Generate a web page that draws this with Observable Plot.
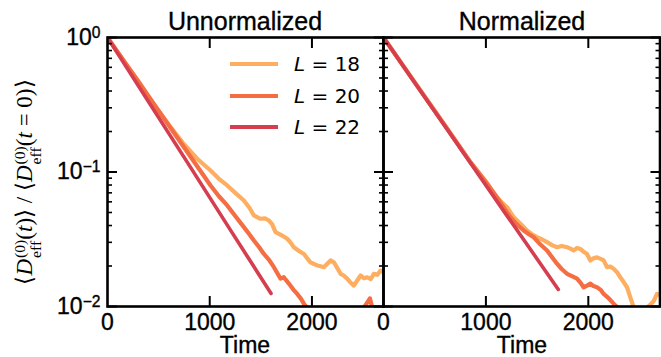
<!DOCTYPE html>
<html><head><meta charset="utf-8">
<script src="https://cdn.jsdelivr.net/npm/d3@7"></script>
<script src="https://cdn.jsdelivr.net/npm/@observablehq/plot@0.6"></script>
<style>
body{margin:0;background:#fff;}
#wrap{position:relative;width:661px;height:357px;overflow:hidden;font-family:"Liberation Sans",Arial,sans-serif;color:#000;}
.abs{position:absolute;}
.title{font-size:25px;line-height:24px;transform:translateX(-50%);white-space:nowrap;-webkit-text-stroke:0.35px #000;}
.xlab{font-size:23px;line-height:18px;transform:translateX(-50%);white-space:nowrap;-webkit-text-stroke:0.35px #000;}
.legline{height:4px;width:48px;}
.legtxt{font-family:"DejaVu Sans",sans-serif;font-size:20px;line-height:20px;white-space:nowrap;}
#ylab{font-family:"Liberation Serif","DejaVu Serif",serif;font-size:23px;line-height:22px;white-space:nowrap;transform:translate(-50%,-50%) rotate(-90deg);}
#ylab i{font-style:italic;}
.br{font-family:"DejaVu Sans","Liberation Serif",serif;font-weight:200;}
.ss{display:inline-flex;flex-direction:column;vertical-align:0.42em;font-size:0.68em;line-height:1.0;margin-left:1px;}
.ss span{font-style:normal;}
svg text{stroke:#000;stroke-width:0.35px;}
</style></head><body><div id="wrap"></div>
<script>
// ---- data ----
const seriesNames = ["18", "20", "22"];
const colors = ["#fdae61", "#f46d43", "#d53e4f"];
const panelTitles = ["Unnormalized", "Normalized"];
const xLabel = "Time";
const xTicks = [0, 1000, 2000];
const xInnerTicks = [1000, 2000];
const yMajor = [1, 0.1, 0.01];
const yExp = ["0", "\u22121", "\u22122"];
const yMinor = [0.02,0.03,0.04,0.05,0.06,0.07,0.08,0.09,0.2,0.3,0.4,0.5,0.6,0.7,0.8,0.9];

// Unnormalized
const u18T = [0,150,300,450,600,750,880,1008,1090,1171,1250,1334,1390,1432,1497,1540,1579,1610,1644,1700,1758,1790,1823,1870,1921,1950,1986,2020,2052,2085,2117,2150,2182,2215,2250,2280,2310,2345,2380,2410,2443,2476,2510,2541,2575,2606,2640,2671,2700];
const u18V = [1,0.68,0.475,0.32,0.225,0.16,0.125,0.1026,0.089,0.0794,0.070,0.0614,0.054,0.0475,0.0449,0.0452,0.0436,0.041,0.0357,0.034,0.0319,0.030,0.0276,0.026,0.0246,0.023,0.0213,0.0207,0.0202,0.0199,0.0196,0.0208,0.0220,0.0213,0.0192,0.0175,0.0170,0.0161,0.0150,0.0143,0.0156,0.0170,0.0162,0.0165,0.0160,0.0175,0.0172,0.0185,0.0180];
const u20T = [0,250,500,750,1008,1090,1171,1250,1334,1380,1432,1480,1530,1580,1628,1693,1725,1774,1820,1856,1890,1921,1960,2000,2100,2200,2300,2400,2450,2510,2545,2567,2590,2630];
const u20V = [1,0.535,0.285,0.152,0.0794,0.066,0.0564,0.047,0.0389,0.035,0.0310,0.0278,0.0246,0.0222,0.0196,0.0161,0.0165,0.0148,0.0133,0.0124,0.0115,0.0105,0.0096,0.0092,0.0085,0.0082,0.0080,0.0086,0.0092,0.0099,0.0108,0.0115,0.0098,0.0088];
const u22T = [0,400,800,1200,1600];
const u22V = [1,0.334,0.112,0.0373,0.0125];

// Normalized
const n18T = [0,300,600,850,1011,1060,1109,1160,1207,1240,1272,1340,1402,1450,1499,1550,1597,1650,1694,1740,1792,1830,1857,1890,1922,1955,1987,2020,2050,2085,2120,2150,2182,2215,2247,2280,2312,2345,2378,2410,2442,2480,2520,2540,2580,2610,2640,2670,2700];
const n18V = [1,0.47,0.222,0.118,0.083,0.073,0.065,0.059,0.0547,0.050,0.0461,0.041,0.0367,0.0345,0.0327,0.0315,0.0301,0.0285,0.0276,0.0282,0.0276,0.0268,0.0261,0.0272,0.0268,0.0255,0.0246,0.0220,0.0228,0.0232,0.0226,0.0220,0.0196,0.0198,0.0191,0.0180,0.0165,0.0152,0.0139,0.0117,0.0099,0.0088,0.0085,0.0090,0.0099,0.0104,0.0110,0.0124,0.0122];
const n20T = [0,300,600,850,1011,1100,1170,1239,1300,1369,1420,1467,1530,1597,1650,1694,1740,1792,1840,1890,1925,1954,1990,2020,2050,2085,2120,2150,2200,2247,2300,2350];
const n20V = [1,0.47,0.222,0.118,0.0817,0.066,0.055,0.0461,0.041,0.0367,0.0345,0.0327,0.029,0.0261,0.023,0.0208,0.019,0.0175,0.0168,0.0161,0.0150,0.0139,0.0143,0.0148,0.0142,0.0139,0.0133,0.0124,0.0115,0.0105,0.0096,0.0092];
const n22T = [0,400,800,1200,1707];
const n22V = [1,0.363,0.132,0.048,0.0134];

const panels = [
  [[u18T,u18V],[u20T,u20V],[u22T,u22V]],
  [[n18T,n18V],[n20T,n20V],[n22T,n22V]]
];

const wrap = document.getElementById("wrap");

function makePanel(series, {width, marginLeft, marginRight, labels}) {
  const marks = [];
  series.forEach(([T, V], i) => {
    const data = T.map((t, j) => ({t, v: V[j]}));
    marks.push(Plot.line(data, {x: "t", y: "v", stroke: colors[i], strokeWidth: i === 2 ? 3.6 : 4.2, clip: true, strokeLinejoin: "round", strokeLinecap: "round"}));
  });
  const empty = () => "";
  // inward ticks
  for (const anchor of ["left", "right"]) {
    marks.push(Plot.axisY(yMajor, {anchor, tickSize: -10, tickFormat: empty, label: null, strokeWidth: 2}));
    marks.push(Plot.axisY(yMinor, {anchor, tickSize: -5, tickFormat: empty, label: null, strokeWidth: 1.6}));
  }
  for (const anchor of ["top", "bottom"]) {
    marks.push(Plot.axisX(xInnerTicks, {anchor, tickSize: -10, tickFormat: empty, label: null, strokeWidth: 2}));
  }
  marks.push(Plot.axisX(xTicks, {anchor: "bottom", tickSize: 0, tickPadding: 7, fontSize: 23, label: null, tickFormat: d => String(d)}));
  if (labels) {
    marks.push(Plot.axisY(yMajor, {anchor: "left", tickSize: 0, tickPadding: 7, fontSize: 23, label: null, tickFormat: d => "10^" + yExp[yMajor.indexOf(d)]}));
  }
  marks.push(Plot.frame({strokeWidth: 2.6}));
  return Plot.plot({
    width, height: 357,
    marginLeft, marginRight, marginTop: 37, marginBottom: 51,
    x: {domain: [0, 2700]},
    y: {type: "log", domain: [0.01, 1]},
    style: {background: "transparent", overflow: "visible", fontFamily: "Liberation Sans, Arial, sans-serif", fontSize: "23px"},
    marks
  });
}

const left = makePanel(panels[0], {width: 384, marginLeft: 107, marginRight: 1, labels: true});
left.style.position = "absolute"; left.style.left = "0px"; left.style.top = "0px";
const right = makePanel(panels[1], {width: 288, marginLeft: 10, marginRight: 1.5, labels: false});
right.style.position = "absolute"; right.style.left = "373px"; right.style.top = "0px";
wrap.appendChild(left);
wrap.appendChild(right);

// superscript exponents on y tick labels (only the labelled axis)
d3.select(left).selectAll('text').each(function() {
  const s = this.textContent;
  if (!s.startsWith("10^")) return;
  const e = s.slice(3);
  const t = d3.select(this);
  t.text("");
  t.append("tspan").text("10");
  t.append("tspan").attr("dy", "-0.45em").attr("font-size", "0.68em").text(e);
});

// titles and x labels
const centers = [245, 522];
panelTitles.forEach((s, i) => {
  const d = document.createElement("div");
  d.className = "abs title"; d.style.left = centers[i] + "px"; d.style.top = "9px"; d.textContent = s;
  wrap.appendChild(d);
  const x = document.createElement("div");
  x.className = "abs xlab"; x.style.left = centers[i] + "px"; x.style.top = "336px"; x.textContent = xLabel;
  wrap.appendChild(x);
});

// legend
const legY = [64, 96, 127];
seriesNames.forEach((n, i) => {
  const l = document.createElement("div");
  l.className = "abs legline"; l.style.left = "230px"; l.style.top = (legY[i] - 2) + "px"; l.style.background = colors[i];
  wrap.appendChild(l);
  const t = document.createElement("div");
  t.className = "abs legtxt"; t.style.left = "294px"; t.style.top = (legY[i] - 10) + "px";
  t.innerHTML = "<i>L</i> = " + n;
  wrap.appendChild(t);
});

// y label
const yl = document.createElement("div");
yl.id = "ylab"; yl.className = "abs"; yl.style.left = "28px"; yl.style.top = "182px";
const dterm = '<i>D</i><span class="ss"><span>(0)</span><span>eff</span></span>';
yl.innerHTML = '<span class="br">\u27E8</span>' + dterm + '(<i>t</i>)<span class="br">\u27E9</span> / <span class="br">\u27E8</span>' + dterm + '(<i>t</i> = 0)<span class="br">\u27E9</span>';
wrap.appendChild(yl);
</script>
</body></html>
